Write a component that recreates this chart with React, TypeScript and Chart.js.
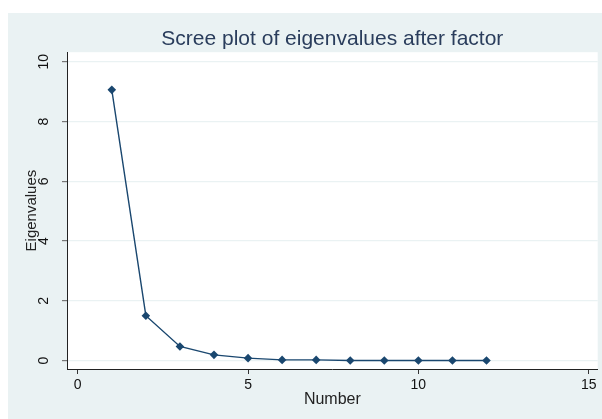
import React, { useEffect, useRef } from "react";
import { Chart, registerables } from "chart.js";

Chart.register(...registerables);

const componentNumbers = [1, 2, 3, 4, 5, 6, 7, 8, 9, 10, 11, 12];
const eigenvalues = [9.06, 1.5, 0.47, 0.19, 0.08, 0.02, 0.02, 0.0, 0.0, 0.0, 0.0, 0.0];
const xTickValues = [0, 5, 10, 15];
const yTickValues = [0, 2, 4, 6, 8, 10];
const chartTitle = "Scree plot of eigenvalues after factor";
const xTitle = "Number";
const yTitle = "Eigenvalues";

const BG = "#eaf2f3";
const NAVY = "#1a476f";
const FONT = "'Liberation Sans', Arial, sans-serif";

const plotBgPlugin = {
  id: "plotBg",
  beforeDraw(chart: any) {
    const { ctx, chartArea } = chart;
    ctx.save();
    ctx.fillStyle = BG;
    ctx.fillRect(0, 0, chart.width, chart.height);
    ctx.fillStyle = "#ffffff";
    ctx.fillRect(chartArea.left, chartArea.top, chartArea.right - chartArea.left, chartArea.bottom - chartArea.top);
    ctx.restore();
  },
};

export default function App() {
  const ref = useRef<HTMLCanvasElement | null>(null);

  useEffect(() => {
    if (!ref.current) return;
    const chart = new Chart(ref.current, {
      type: "line",
      data: {
        datasets: [
          {
            data: componentNumbers.map((n, i) => ({ x: n, y: eigenvalues[i] })),
            borderColor: NAVY,
            borderWidth: 1.4,
            pointStyle: "rectRot",
            pointRadius: 4.3,
            pointBackgroundColor: NAVY,
            pointBorderColor: NAVY,
            pointBorderWidth: 0,
            tension: 0,
            fill: false,
          },
        ],
      },
      options: {
        responsive: false,
        animation: false,
        layout: { padding: 0 },
        plugins: {
          legend: { display: false },
          tooltip: { enabled: false },
          title: {
            display: true,
            text: chartTitle,
            fullSize: false,
            color: "#2a3d5c",
            font: { family: FONT, size: 21, weight: "normal", lineHeight: 1.2 },
            padding: { top: 14, bottom: 0 },
          },
        },
        scales: {
          x: {
            type: "linear",
            min: -0.315,
            max: 15.265,
            afterBuildTicks: (scale: any) => {
              scale.ticks = xTickValues.map((v) => ({ value: v }));
            },
            afterFit: (scale: any) => {
              scale.height = 50;
            },
            grid: {
              display: true,
              drawOnChartArea: false,
              drawTicks: true,
              tickLength: 5,
              tickColor: "#333",
            },
            border: { display: true, color: "#222", width: 1 },
            ticks: {
              color: "#111",
              font: { family: FONT, size: 14 },
              padding: 3,
              maxRotation: 0,
              autoSkip: false,
            },
            title: {
              display: true,
              text: xTitle,
              color: "#222",
              font: { family: FONT, size: 16 },
              padding: { top: 0, bottom: 10 },
            },
          },
          y: {
            type: "linear",
            min: -0.284,
            max: 10.32,
            afterBuildTicks: (scale: any) => {
              scale.ticks = yTickValues.map((v) => ({ value: v }));
            },
            afterFit: (scale: any) => {
              scale.width = 59;
            },
            grid: {
              display: true,
              drawOnChartArea: true,
              drawTicks: true,
              tickLength: 5,
              color: BG,
              lineWidth: 1.2,
              tickColor: "#777",
            },
            border: { display: true, color: "#222", width: 1 },
            ticks: {
              color: "#111",
              font: { family: FONT, size: 14 },
              padding: 10,
              minRotation: 90,
              maxRotation: 90,
              crossAlign: "center",
              autoSkip: false,
            },
            title: {
              display: true,
              text: yTitle,
              color: "#222",
              font: { family: FONT, size: 15 },
              padding: { top: 15, bottom: 0 },
            },
          },
        },
      },
      plugins: [plotBgPlugin],
    } as any);
    return () => chart.destroy();
  }, []);

  return (
    <div
      style={{
        position: "fixed",
        left: 8,
        top: 13,
        width: 594,
        height: 406,
        background: BG,
      }}
    >
      <canvas ref={ref} width={594} height={406} style={{ display: "block" }} />
    </div>
  );
}
